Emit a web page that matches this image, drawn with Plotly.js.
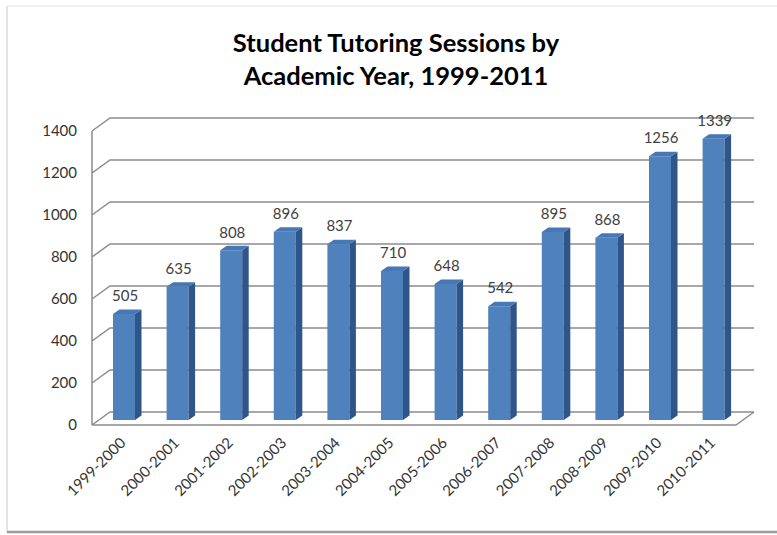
<!DOCTYPE html>
<html>
<head>
<meta charset="utf-8">
<script src="https://cdn.plot.ly/plotly-3.0.1.min.js"></script>
<style>
  html, body { margin: 0; padding: 0; background: #ffffff; }
  #chart { width: 777px; height: 535px; }
</style>
</head>
<body>
<div id="chart"></div>
<script>
// ---- data ----
const categories = ['1999-2000', '2000-2001', '2001-2002', '2002-2003', '2003-2004', '2004-2005',
                    '2005-2006', '2006-2007', '2007-2008', '2008-2009', '2009-2010', '2010-2011'];
const sessions = [505, 635, 808, 896, 837, 710, 648, 542, 895, 868, 1256, 1339];
const yTickValues = [0, 200, 400, 600, 800, 1000, 1200, 1400];

// ---- geometry (pixels -> axis units) ----
const PLOT_L = 90, PLOT_R = 757, PLOT_T = 116, PLOT_B = 428;
const CAT0_PX = 124, CAT_STEP = 53.6;     // px per category
const ZERO_PX = 425, Y_SCALE = 0.21;      // px per unit
const xRange = [(PLOT_L - CAT0_PX) / CAT_STEP, (PLOT_R - CAT0_PX) / CAT_STEP];
const yRange = [(ZERO_PX - PLOT_B) / Y_SCALE, (ZERO_PX - PLOT_T) / Y_SCALE];

const DX = 18 / CAT_STEP, DY = 13 / Y_SCALE;       // depth of the chart box
const XW = (92 - CAT0_PX) / CAT_STEP;              // wall front edge
const XE = (736 - CAT0_PX) / CAT_STEP;             // floor front right end
const BAR_W = 22 / CAT_STEP;
const BAR_BASE = 5 / Y_SCALE;
const SDX = 6.5 / CAT_STEP, SDY = 4.5 / Y_SCALE;   // bar depth
const LABEL_GAP = 12 / Y_SCALE;

const idx = categories.map((c, i) => i);
const yMax = yTickValues[yTickValues.length - 1];

// gridlines / walls as shapes below traces
let gridPath = '';
yTickValues.forEach(v => {
  gridPath += `M${XW},${v} L${XW + DX},${v + DY} L${XE + DX},${v + DY} `;
});
gridPath += `M${XW},0 L${XE},0 L${XE + DX},${DY} `;
gridPath += `M${XW},0 L${XW},${yMax} `;

// side & top faces
const sideX = [], sideY = [], topX = [], topY = [];
idx.forEach(i => {
  const v = sessions[i];
  const r = i + BAR_W / 2, l = i - BAR_W / 2;
  const b = BAR_BASE, t = BAR_BASE + v;
  sideX.push(r, r + SDX, r + SDX, r, r, null);
  sideY.push(b, b + SDY, t + SDY, t, b, null);
  topX.push(l, r, r + SDX, l + SDX, l, null);
  topY.push(t, t, t + SDY, t + SDY, t, null);
});

const FONT = 'Lato, "Open Sans", sans-serif';

const traces = [
  {
    type: 'bar', x: idx, y: sessions, base: BAR_BASE, width: BAR_W,
    marker: { color: '#4F81BD', line: { width: 0 } },
    hoverinfo: 'skip', showlegend: false
  },
  {
    type: 'scatter', mode: 'lines', x: sideX, y: sideY, fill: 'toself',
    fillcolor: '#2F5589', line: { width: 0, color: '#2F5589' },
    hoverinfo: 'skip', showlegend: false
  },
  {
    type: 'scatter', mode: 'lines', x: topX, y: topY, fill: 'toself',
    fillcolor: '#4677B6', line: { width: 0, color: '#4677B6' },
    hoverinfo: 'skip', showlegend: false
  },
  {
    type: 'scatter', mode: 'text',
    x: idx.map(i => i + 0.02),
    y: sessions.map(v => v + BAR_BASE + SDY + LABEL_GAP),
    text: sessions.map(v => String(v)),
    textposition: 'middle center',
    textfont: { family: FONT, size: 15, color: '#404040' },
    cliponaxis: false, hoverinfo: 'skip', showlegend: false
  }
];

const pxX = px => (px - PLOT_L) / (PLOT_R - PLOT_L);
const pxY = py => (PLOT_B - py) / (PLOT_B - PLOT_T);

const layout = {
  width: 777, height: 535,
  margin: { l: PLOT_L, r: 777 - PLOT_R, t: PLOT_T, b: 535 - PLOT_B, pad: 0 },
  paper_bgcolor: '#ffffff', plot_bgcolor: 'rgba(0,0,0,0)',
  showlegend: false,
  title: {
    text: 'Student Tutoring Sessions by<br>Academic Year, 1999-2011',
    font: { family: FONT, size: 25.5, color: '#000000', weight: 'bold' },
    x: 396 / 777, xref: 'container', xanchor: 'center',
    y: 1 - 52 / 535, yref: 'container', yanchor: 'middle'
  },
  xaxis: {
    range: xRange, fixedrange: true,
    tickmode: 'array', tickvals: idx.map(i => i - 0.05), ticktext: categories,
    tickangle: -45, ticks: '', ticklabelstandoff: 2,
    tickfont: { family: FONT, size: 15, color: '#333333' },
    showgrid: false, zeroline: false, showline: false
  },
  yaxis: {
    range: yRange, fixedrange: true,
    tickmode: 'array', tickvals: yTickValues,
    ticks: '', ticklabelstandoff: 12,
    tickfont: { family: FONT, size: 15, color: '#333333' },
    showgrid: false, zeroline: false, showline: false
  },
  shapes: [
    { type: 'path', xref: 'x', yref: 'y', layer: 'below', path: gridPath,
      line: { color: '#8C8C8C', width: 1.5 } },
    // outer frame
    { type: 'line', xref: 'paper', yref: 'paper', x0: pxX(7), x1: pxX(7), y0: pxY(6), y1: pxY(532),
      line: { color: '#C8C8C8', width: 1 } },
    { type: 'line', xref: 'paper', yref: 'paper', x0: pxX(7), x1: pxX(780), y0: pxY(6), y1: pxY(6),
      line: { color: '#E4E4E4', width: 1 } },
    { type: 'line', xref: 'paper', yref: 'paper', x0: pxX(7), x1: pxX(780), y0: pxY(532), y1: pxY(532),
      line: { color: '#9C9C9C', width: 2.5 } }
  ]
};

Plotly.newPlot('chart', traces, layout, { staticPlot: true, displayModeBar: false });
</script>
</body>
</html>
